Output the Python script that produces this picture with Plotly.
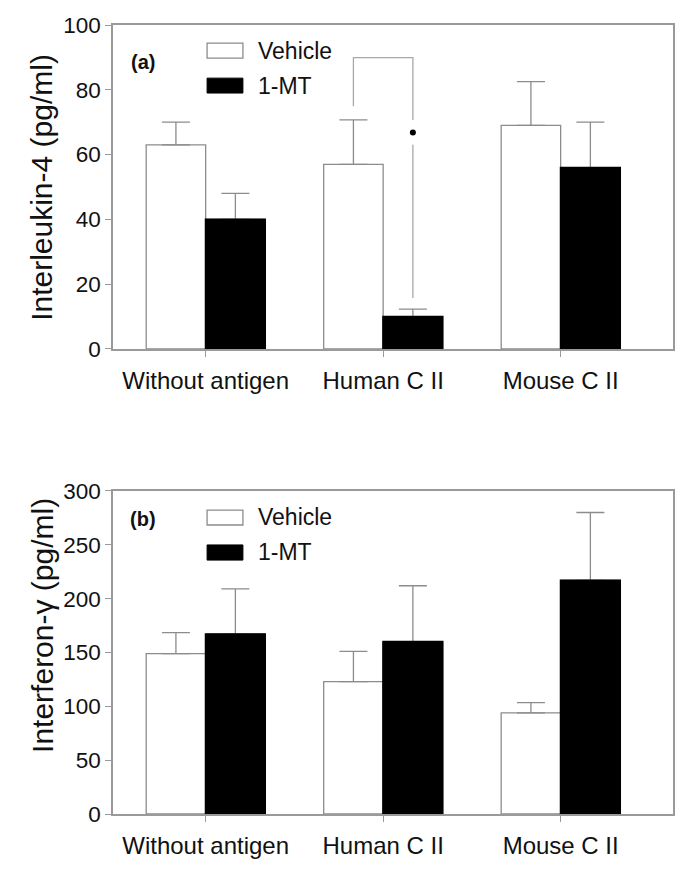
import plotly.graph_objects as go

# ---------------- data ----------------
categories = ["Without antigen", "Human C II", "Mouse C II"]
cat_pos = [0, 1, 2]

il4_vehicle = [63, 57, 69]
il4_vehicle_err = [7, 13.7, 13.5]
il4_mt = [40, 10, 56]
il4_mt_err = [8, 2.3, 14]

ifn_vehicle = [149, 123, 94]
ifn_vehicle_err = [19.5, 28, 9.5]
ifn_mt = [167, 160, 217]
ifn_mt_err = [42, 52, 63]

il4_ticks = [0, 20, 40, 60, 80, 100]
ifn_ticks = [0, 50, 100, 150, 200, 250, 300]

# significance bracket (panel a, Human C II): values in pg/ml
bracket_top = 89.9
bracket_left_bottom = 74.9
bracket_right_upper_bottom = 70.7
bracket_dot = 66.8
bracket_right_lower = [63.0, 15.7]

FONT = "Arial, Liberation Sans, Helvetica, sans-serif"
GRAY = "#9a9a9a"
TXT = "#111111"
HALF = 0.1675  # half offset of each bar within a group (grouped bars)

fig = go.Figure()

def add_bars(xa, ya, veh, veh_err, mt, mt_err):
    fig.add_trace(go.Bar(
        x=cat_pos, y=veh, xaxis=xa, yaxis=ya, name="Vehicle", showlegend=False,
        offsetgroup="veh",
        marker=dict(color="white", line=dict(color="#8c8c8c", width=1.3)),
        error_y=dict(type="data", array=veh_err, arrayminus=[0] * len(veh_err),
                     symmetric=False, color="#8c8c8c", thickness=1.3, width=14),
    ))
    fig.add_trace(go.Bar(
        x=cat_pos, y=mt, xaxis=xa, yaxis=ya, name="1-MT", showlegend=False,
        offsetgroup="mt",
        marker=dict(color="black", line=dict(color="black", width=1)),
        error_y=dict(type="data", array=mt_err, arrayminus=[0] * len(mt_err),
                     symmetric=False, color="#8c8c8c", thickness=1.3, width=14),
    ))
    # same 1-MT bars redrawn on top, so the error bar's base cap does not show on the black top edge
    fig.add_trace(go.Bar(
        x=cat_pos, y=mt, xaxis=xa, yaxis=ya, name="1-MT", showlegend=False,
        offsetgroup="mt", hoverinfo="skip",
        marker=dict(color="black", line=dict(color="black", width=1.8)),
    ))

add_bars("x", "y", il4_vehicle, il4_vehicle_err, il4_mt, il4_mt_err)
add_bars("x2", "y2", ifn_vehicle, ifn_vehicle_err, ifn_mt, ifn_mt_err)

# significance bracket in panel (a)
xl = cat_pos[1] - HALF
xr = cat_pos[1] + HALF
fig.add_trace(go.Scatter(
    x=[xl, xl, xr, xr], y=[bracket_left_bottom, bracket_top, bracket_top, bracket_right_upper_bottom],
    mode="lines", line=dict(color="#a8a8a8", width=1.3), xaxis="x", yaxis="y",
    showlegend=False, hoverinfo="skip"))
fig.add_trace(go.Scatter(
    x=[xr, xr], y=bracket_right_lower,
    mode="lines", line=dict(color="#a8a8a8", width=1.3), xaxis="x", yaxis="y",
    showlegend=False, hoverinfo="skip"))
fig.add_trace(go.Scatter(
    x=[xr], y=[bracket_dot], mode="markers", marker=dict(color="black", size=6),
    xaxis="x", yaxis="y", showlegend=False, hoverinfo="skip"))

xaxis_common = dict(
    range=[-0.522, 2.633], tickmode="array", tickvals=cat_pos, ticktext=categories,
    showline=True, linecolor=GRAY, linewidth=1.6, mirror=True,
    ticks="outside", ticklen=6, tickcolor=GRAY, tickwidth=1.2,
    tickfont=dict(family=FONT, size=24, color=TXT), ticklabelstandoff=3,
    showgrid=False, zeroline=False, fixedrange=True, automargin=False,
)
yaxis_common = dict(
    showline=True, linecolor=GRAY, linewidth=1.6, mirror=True,
    ticks="outside", ticklen=6, tickcolor=GRAY, tickwidth=1.2,
    tickfont=dict(family=FONT, size=22.5, color=TXT), ticklabelstandoff=0,
    showgrid=False, zeroline=False, fixedrange=True, automargin=False,
)

# The page body has an 8px margin, so the figure is sized/offset to compensate.
fig.update_layout(
    width=669, height=855,
    margin=dict(l=105, r=4, t=17, b=49, autoexpand=False),
    paper_bgcolor="white", plot_bgcolor="white",
    barmode="group", bargap=0.33, bargroupgap=0,
    showlegend=False,
    xaxis=dict(domain=[0, 1], anchor="y", **xaxis_common),
    yaxis=dict(domain=[0.5894, 1.0], anchor="x", range=[0, 100], tickvals=il4_ticks, **yaxis_common),
    xaxis2=dict(domain=[0, 1], anchor="y2", **xaxis_common),
    yaxis2=dict(domain=[0, 0.4094], anchor="x2", range=[0, 300], tickvals=ifn_ticks, **yaxis_common),
)

shapes = []
annotations = []

def panel_deco(xr_, yr_, label, label_y, white_y, black_y, veh_y, mt_y, title, title_y):
    xd = xr_ + " domain"
    yd = yr_ + " domain"
    shapes.append(dict(type="rect", xref=xd, yref=yd, x0=0.168, x1=0.232, y0=white_y[0], y1=white_y[1],
                       fillcolor="white", line=dict(color="#8c8c8c", width=1.3)))
    shapes.append(dict(type="rect", xref=xd, yref=yd, x0=0.168, x1=0.232, y0=black_y[0], y1=black_y[1],
                       fillcolor="black", line=dict(color="black", width=1)))
    annotations.append(dict(xref=xd, yref=yd, x=0.0527, y=label_y, text="<b>" + label + "</b>",
                            showarrow=False, xanchor="center", yanchor="middle",
                            font=dict(family=FONT, size=20, color=TXT)))
    annotations.append(dict(xref=xd, yref=yd, x=0.255, y=veh_y, text="Vehicle", showarrow=False,
                            xanchor="left", yanchor="middle", font=dict(family=FONT, size=23, color=TXT)))
    annotations.append(dict(xref=xd, yref=yd, x=0.255, y=mt_y, text="1-MT", showarrow=False,
                            xanchor="left", yanchor="middle", font=dict(family=FONT, size=23, color=TXT)))
    annotations.append(dict(xref="paper", yref=yd, x=-0.127, y=title_y, text=title, showarrow=False,
                            textangle=-90, xanchor="center", yanchor="middle",
                            font=dict(family=FONT, size=30, color=TXT)))

panel_deco("x", "y", "(a)", 0.885, (0.898, 0.944), (0.79, 0.836), 0.921, 0.813,
           "Interleukin-4 (pg/ml)", 0.5)
panel_deco("x2", "y2", "(b)", 0.913, (0.8947, 0.941), (0.786, 0.833), 0.92, 0.811,
           "Interferon-γ (pg/ml)", 0.585)

fig.update_layout(shapes=shapes, annotations=annotations)

fig.write_html("out.html")
